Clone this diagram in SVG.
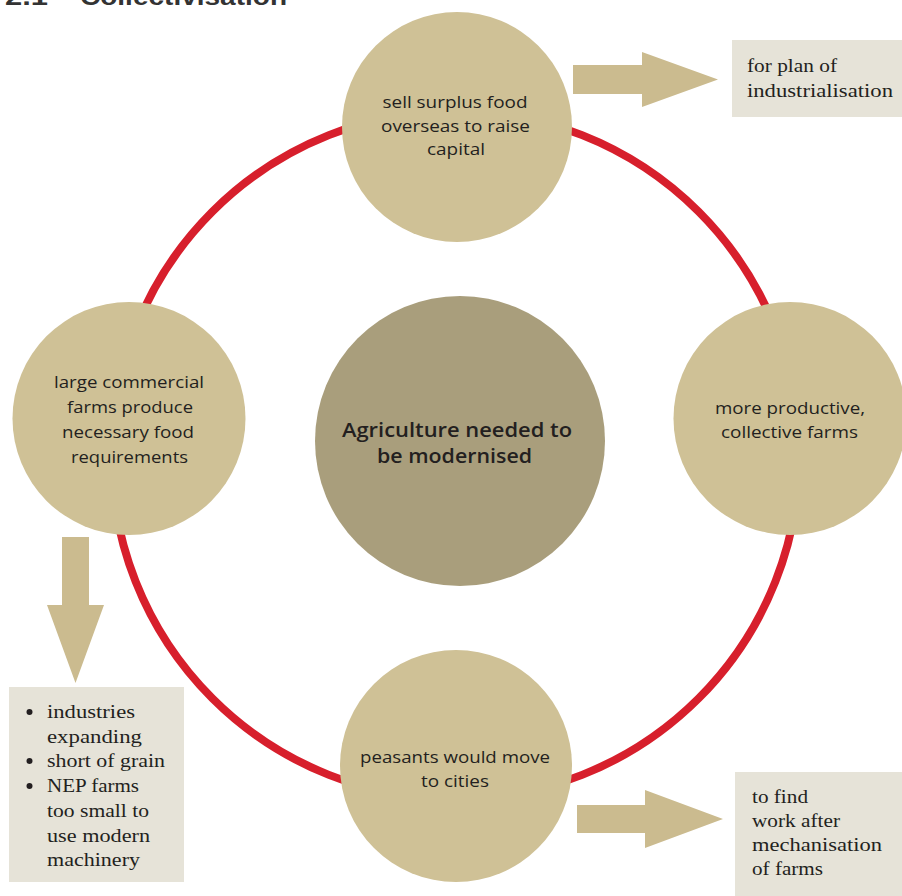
<svg xmlns="http://www.w3.org/2000/svg" width="902" height="896" viewBox="0 0 902 896">
<style>
.circ{fill:#cfc196}
.core{fill:#a99e7c}
.box{fill:#e6e3d8}
.arrow{fill:#cbbb8f}
.ring{fill:none;stroke:#d71f2c;stroke-width:8}
.ct{font-family:"Open Sans","Liberation Sans",sans-serif;font-size:17px;fill:#231f20;text-anchor:middle}
.cc{font-family:"Open Sans","Liberation Sans",sans-serif;font-size:20px;font-weight:600;fill:#231f20;text-anchor:middle}
.bt{font-family:"Liberation Serif","DejaVu Serif",serif;font-size:18.5px;fill:#231f20}
.title{font-family:"Liberation Sans",Arial,sans-serif;font-size:24px;font-weight:bold;fill:#333}
</style>
<rect width="902" height="896" fill="#fff"/>
<g id="title">
<text class="title" x="5" y="5" textLength="43" lengthAdjust="spacingAndGlyphs">2.1</text>
<text class="title" x="80" y="5" textLength="207" lengthAdjust="spacingAndGlyphs">Collectivisation</text>
</g>
<g id="connectors">
<circle class="ring" cx="455.5" cy="455" r="344"/>
<path class="arrow" d="M573,65 H642 V52 L718,79.5 L642,107 V94 H573 Z"/>
<path class="arrow" d="M577,805 H645 V790 L723,819 L645,848 V833 H577 Z"/>
<path class="arrow" d="M62,537 H89 V605 H104 L75.5,683 L47,605 H62 Z"/>
</g>
<g id="node-top">
<circle class="circ" cx="457" cy="127" r="115"/>
<text class="ct" x="455" y="108" textLength="145" lengthAdjust="spacingAndGlyphs">sell surplus food</text>
<text class="ct" x="455.5" y="132" textLength="149" lengthAdjust="spacingAndGlyphs">overseas to raise</text>
<text class="ct" x="456" y="155" textLength="58" lengthAdjust="spacingAndGlyphs">capital</text>
</g>
<g id="node-left">
<circle class="circ" cx="129" cy="418.5" r="116.5"/>
<text class="ct" x="129" y="388" textLength="150" lengthAdjust="spacingAndGlyphs">large commercial</text>
<text class="ct" x="130" y="413" textLength="126" lengthAdjust="spacingAndGlyphs">farms produce</text>
<text class="ct" x="128" y="438" textLength="132" lengthAdjust="spacingAndGlyphs">necessary food</text>
<text class="ct" x="129.5" y="463" textLength="117" lengthAdjust="spacingAndGlyphs">requirements</text>
</g>
<g id="node-right">
<circle class="circ" cx="790" cy="418.5" r="116.5"/>
<text class="ct" x="790" y="414" textLength="150" lengthAdjust="spacingAndGlyphs">more productive,</text>
<text class="ct" x="789.5" y="438" textLength="137" lengthAdjust="spacingAndGlyphs">collective farms</text>
</g>
<g id="node-bottom">
<circle class="circ" cx="456" cy="766" r="116"/>
<text class="ct" x="455" y="763" textLength="190" lengthAdjust="spacingAndGlyphs">peasants would move</text>
<text class="ct" x="455" y="787" textLength="68" lengthAdjust="spacingAndGlyphs">to cities</text>
</g>
<g id="node-center">
<circle class="core" cx="460" cy="441" r="145"/>
<text class="cc" x="457" y="437" textLength="230" lengthAdjust="spacingAndGlyphs">Agriculture needed to</text>
<text class="cc" x="454.5" y="463" textLength="155" lengthAdjust="spacingAndGlyphs">be modernised</text>
</g>
<g id="box-industrialisation">
<rect class="box" x="732" y="40" width="170" height="77"/>
<text class="bt" x="747" y="72" textLength="90" lengthAdjust="spacingAndGlyphs">for plan of</text>
<text class="bt" x="747" y="97" textLength="146" lengthAdjust="spacingAndGlyphs">industrialisation</text>
</g>
<g id="box-reasons">
<rect class="box" x="9" y="687" width="175" height="195"/>
<circle cx="29.5" cy="712" r="3" fill="#231f20"/>
<circle cx="29.5" cy="761" r="3" fill="#231f20"/>
<circle cx="29.5" cy="786" r="3" fill="#231f20"/>
<text class="bt" x="47" y="718" textLength="88" lengthAdjust="spacingAndGlyphs">industries</text>
<text class="bt" x="47" y="743" textLength="95" lengthAdjust="spacingAndGlyphs">expanding</text>
<text class="bt" x="47" y="767" textLength="118" lengthAdjust="spacingAndGlyphs">short of grain</text>
<text class="bt" x="47" y="792" textLength="92" lengthAdjust="spacingAndGlyphs">NEP farms</text>
<text class="bt" x="47" y="817" textLength="102" lengthAdjust="spacingAndGlyphs">too small to</text>
<text class="bt" x="47" y="842" textLength="103" lengthAdjust="spacingAndGlyphs">use modern</text>
<text class="bt" x="47" y="866" textLength="93" lengthAdjust="spacingAndGlyphs">machinery</text>
</g>
<g id="box-work">
<rect class="box" x="735" y="772" width="167" height="124"/>
<text class="bt" x="752" y="803" textLength="56" lengthAdjust="spacingAndGlyphs">to find</text>
<text class="bt" x="752" y="827" textLength="88" lengthAdjust="spacingAndGlyphs">work after</text>
<text class="bt" x="752" y="851" textLength="130" lengthAdjust="spacingAndGlyphs">mechanisation</text>
<text class="bt" x="752" y="875" textLength="71" lengthAdjust="spacingAndGlyphs">of farms</text>
</g>
</svg>
